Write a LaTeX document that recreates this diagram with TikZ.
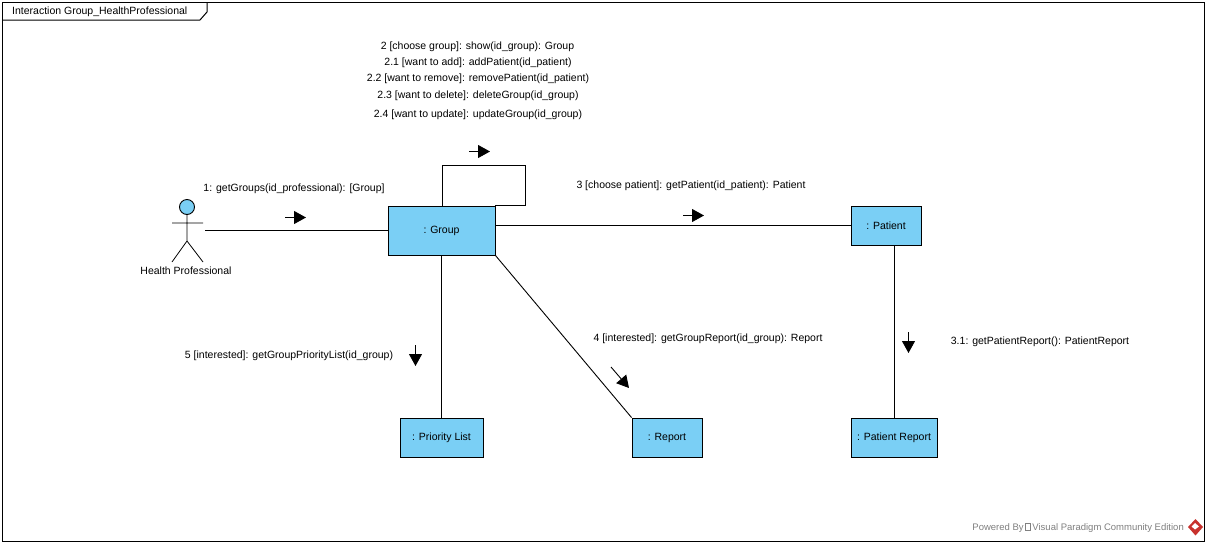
\documentclass[tikz,border=0pt]{standalone}
\usepackage{fontspec}
\setmainfont{Liberation Sans}
\usetikzlibrary{arrows.meta}
\definecolor{objblue}{HTML}{7ACFF5}
\definecolor{wmgray}{HTML}{808080}
\definecolor{logored}{HTML}{C8322D}
\tikzset{
  obj/.style={draw=black,fill=objblue,line width=0.9pt,inner sep=0pt,minimum height=39pt,font=\fontsize{10.5}{12}\selectfont},
  msg/.style={font=\fontsize{10.5}{12}\selectfont,inner sep=0pt,text=black},
  link/.style={draw=black,line width=0.9pt},
  dirarrow/.style={draw=black,line width=0.9pt,-{Triangle[length=12pt,width=13pt]}}
}
\begin{document}
\begin{tikzpicture}[x=1pt,y=-1pt]
\useasboundingbox (0,0) rectangle (1207,544);
\fill[white] (0,0) rectangle (1207,544);
% frame
\draw[line width=1pt] (2,2) rectangle (1204,541);
\draw[line width=1pt] (2,20) -- (200,20) -- (207,12) -- (207,2);
\node[msg,anchor=west] (title) at (12,11.5) {Interaction Group\_HealthProfessional};
% objects
\node[obj,minimum width=107pt,minimum height=49pt] (group) at (441.5,230.5) {: Group};
\node[obj,minimum width=70pt] (patient) at (886,225.5) {: Patient};
\node[obj,minimum width=83pt] (plist) at (441.5,437.5) {: Priority List};
\node[obj,minimum width=70pt] (report) at (667,437.5) {: Report};
\node[obj,minimum width=86pt] (preport) at (894,437.5) {: Patient Report};
% actor
\node[draw=black,fill=objblue,circle,line width=0.9pt,inner sep=0pt,minimum size=15pt] (head) at (187,207) {};
\coordinate (armL) at (172,223);
\coordinate (armR) at (203,223);
\coordinate (hip) at (187,241);
\coordinate (footL) at (172,262);
\coordinate (footR) at (203,262);
\draw[link,line width=0.8pt] (head.south) -- (hip) (armL) -- (armR) (footL) -- (hip) -- (footR);
\node[msg,anchor=base] (actorlabel) at (186,274) {Health Professional};
% connectors
\coordinate (actorEnd) at (205,230.5);
\draw[link] (actorEnd) -- (group.west |- actorEnd);
\coordinate (loopA) at (442,165);
\coordinate (loopB) at (525,165);
\draw[link] (group.north -| loopA) -- (loopA) -- (loopB) -- (loopB |- group.north) -- (group.north east);
\draw[link] (group.east |- patient.west) -- (patient.west);
\draw[link] (group.south) -- (plist.north);
\draw[link] (group.south east) -- (report.north west);
\draw[link] (patient.south -| 894.5,0) -- (preport.north -| 894.5,0);
% message arrows
\coordinate (a1s) at (285,217.5); \coordinate (a1e) at (306,217.5);
\draw[dirarrow] (a1s) -- (a1e);
\coordinate (a2s) at (469,151.5); \coordinate (a2e) at (490,151.5);
\draw[dirarrow] (a2s) -- (a2e);
\coordinate (a3s) at (683,215.5); \coordinate (a3e) at (704,215.5);
\draw[dirarrow] (a3s) -- (a3e);
\coordinate (a4s) at (611,367); \coordinate (a4e) at (629,388);
\draw[dirarrow] (a4s) -- (a4e);
\coordinate (a5s) at (415.5,345); \coordinate (a5e) at (415.5,366);
\draw[dirarrow] (a5s) -- (a5e);
\coordinate (a6s) at (908.5,332); \coordinate (a6e) at (908.5,353);
\draw[dirarrow] (a6s) -- (a6e);
% messages
\node[msg] (m2) at (477.5,46.5) {2 [choose group]: show(id\_group): Group};
\node[msg] (m21) at (478,62.5) {2.1 [want to add]: addPatient(id\_patient)};
\node[msg] (m22) at (478,79) {2.2 [want to remove]: removePatient(id\_patient)};
\node[msg] (m23) at (478,96) {2.3 [want to delete]: deleteGroup(id\_group)};
\node[msg] (m24) at (478,114.5) {2.4 [want to update]: updateGroup(id\_group)};
\node[msg] (m1) at (294,189) {1: getGroups(id\_professional): [Group]};
\node[msg] (m3) at (691,186) {3 [choose patient]: getPatient(id\_patient): Patient};
\node[msg] (m5) at (289,356) {5 [interested]: getGroupPriorityList(id\_group)};
\node[msg] (m4) at (708,339) {4 [interested]: getGroupReport(id\_group): Report};
\node[msg] (m31) at (1040,342) {3.1: getPatientReport(): PatientReport};
% watermark
\node[msg,anchor=east,text=wmgray,font=\fontsize{9.5}{11}\selectfont] (wm) at (1184,527.5) {Powered By\,\raisebox{0pt}{\tikz[x=1pt,y=1pt]\draw[wmgray,line width=0.6pt] (0,0) rectangle (5,7);}\,Visual Paradigm Community Edition};
\fill[logored] (1195.5,519) -- (1203,527) -- (1195.5,535.5) -- (1188,527) -- cycle;
\fill[white] (1195,523) -- (1199,526.5) -- (1195,529.5) -- (1191.5,526.5) -- cycle;
\end{tikzpicture}
\end{document}
